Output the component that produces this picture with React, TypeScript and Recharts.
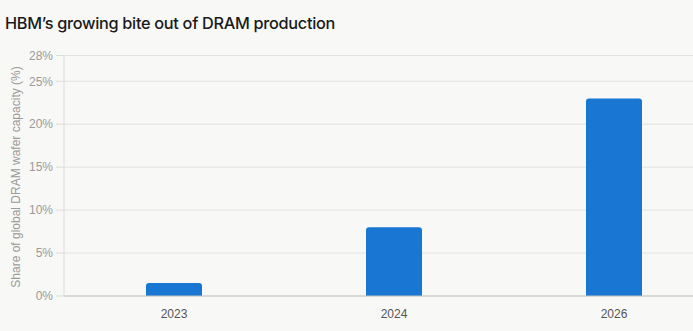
import React from 'react';
import { BarChart, Bar, XAxis, YAxis, CartesianGrid } from 'recharts';

const years = ['2023', '2024', '2026'];
const hbmShare = [1.5, 8, 23];
const yTicks = [0, 5, 10, 15, 20, 25, 28];

const data = years.map((y, i) => ({ year: y, share: hbmShare[i] }));

const YLabel = () => (
  <text
    x={16}
    y={177}
    transform="rotate(-90 16 177)"
    textAnchor="middle"
    dominantBaseline="central"
    fontFamily="'Liberation Sans', Arial, sans-serif"
    fontSize={12}
    fill="#9a9a9a"
  >
    Share of global DRAM wafer capacity (%)
  </text>
);

export default function App() {
  return (
    <div
      style={{
        position: 'absolute',
        left: 0,
        top: 0,
        width: 693,
        height: 331,
        background: '#f8f8f6',
        overflow: 'hidden',
      }}
    >
      <div
        style={{
          position: 'absolute',
          left: 5,
          top: 13,
          lineHeight: '20px',
          fontFamily: 'Inter, sans-serif',
          fontWeight: 500,
          fontSize: 16.3,
          color: '#1a1a1a',
          whiteSpace: 'nowrap',
          letterSpacing: '-0.3px',
        }}
      >
        HBM’s growing bite out of DRAM production
      </div>
      <div style={{ position: 'absolute', left: 0, top: 0 }}>
        <BarChart
          width={730}
          height={331}
          data={data}
          margin={{ top: 55.5, right: 6, bottom: 0, left: 0 }}
        >
          <CartesianGrid vertical={false} stroke="#e2e2e0" />
          <XAxis
            dataKey="year"
            height={35}
            tickLine={false}
            tickSize={0}
            tickMargin={13}
            axisLine={{ stroke: '#c4c4c0' }}
            tick={{ fill: '#555', fontSize: 12, fontFamily: "'Liberation Sans', Arial, sans-serif" }}
          />
          <YAxis
            width={64}
            domain={[0, 28]}
            ticks={yTicks}
            interval={0}
            tickFormatter={(v: number) => `${v}%`}
            tickSize={8}
            tickMargin={3}
            axisLine={{ stroke: '#dcdcda' }}
            tickLine={{ stroke: '#dcdcda' }}
            tick={{ fill: '#9a9a9a', fontSize: 12, fontFamily: "'Liberation Sans', Arial, sans-serif" }}
            label={{ content: () => <YLabel /> }}
          />
          <Bar
            dataKey="share"
            fill="#1976d2"
            barSize={56}
            radius={[3, 3, 0, 0]}
            isAnimationActive={false}
          />
        </BarChart>
      </div>
    </div>
  );
}
